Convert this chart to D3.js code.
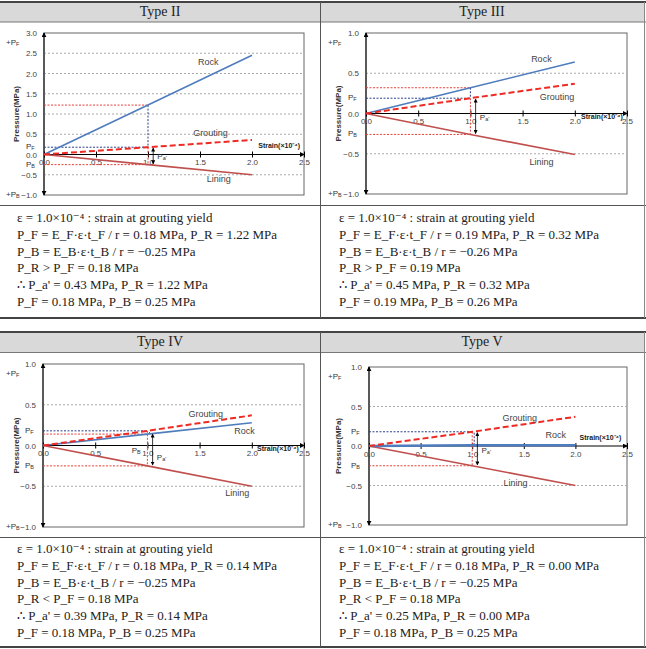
<!DOCTYPE html>
<html>
<head>
<meta charset="utf-8">
<script src="https://cdn.jsdelivr.net/npm/d3@7"></script>
<style>
  body { margin: 0; background: #fff; }
  svg { display: block; }
</style>
</head>
<body>
<svg id="chart" width="646" height="649"></svg>
<script>
// ---- data ----
var titles = ["Type II", "Type III", "Type IV", "Type V"];
var strain = [0, 1.0, 2.0];
var rock = [[0, 1.22, 2.45], [0, 0.32, 0.64], [0, 0.14, 0.28], [0, 0.01, 0.01]];
var grouting = [[0, 0.18, 0.36], [0, 0.19, 0.37], [0, 0.18, 0.37], [0, 0.18, 0.37]];
var lining = [[0, -0.25, -0.5], [0, -0.26, -0.51], [0, -0.25, -0.5], [0, -0.25, -0.5]];
var yMin = [-1, -1, -1, -1];
var yMax = [3, 1, 1, 1];
var yTicks = [
  [-1, -0.5, 0, 0.5, 1, 1.5, 2, 2.5, 3],
  [-1, -0.5, 0, 0.5, 1],
  [-1, -0.5, 0, 0.5, 1],
  [-1, -0.5, 0, 0.5, 1]
];
var xTicks = [0, 0.5, 1.0, 1.5, 2.0, 2.5];
var notes = [
  ["ε = 1.0×10⁻⁴ : strain at grouting yield",
   "P_F = E_F·ε·t_F / r = 0.18 MPa,  P_R = 1.22 MPa",
   "P_B = E_B·ε·t_B / r = −0.25 MPa",
   "P_R > P_F = 0.18 MPa",
   "∴  P_a' = 0.43 MPa,  P_R = 1.22 MPa",
   "P_F = 0.18 MPa,  P_B = 0.25 MPa"],
  ["ε = 1.0×10⁻⁴ : strain at grouting yield",
   "P_F = E_F·ε·t_F / r = 0.19 MPa,  P_R = 0.32 MPa",
   "P_B = E_B·ε·t_B / r = −0.26 MPa",
   "P_R > P_F = 0.19 MPa",
   "∴  P_a' = 0.45 MPa,  P_R = 0.32 MPa",
   "P_F = 0.19 MPa,  P_B = 0.26 MPa"],
  ["ε = 1.0×10⁻⁴ : strain at grouting yield",
   "P_F = E_F·ε·t_F / r = 0.18 MPa,  P_R = 0.14 MPa",
   "P_B = E_B·ε·t_B / r = −0.25 MPa",
   "P_R < P_F = 0.18 MPa",
   "∴  P_a' = 0.39 MPa,  P_R = 0.14 MPa",
   "P_F = 0.18 MPa,  P_B = 0.25 MPa"],
  ["ε = 1.0×10⁻⁴ : strain at grouting yield",
   "P_F = E_F·ε·t_F / r = 0.18 MPa,  P_R = 0.00 MPa",
   "P_B = E_B·ε·t_B / r = −0.25 MPa",
   "P_R < P_F = 0.18 MPa",
   "∴  P_a' = 0.25 MPa,  P_R = 0.00 MPa",
   "P_F = 0.18 MPa,  P_B = 0.25 MPa"]
];
// label spots in data units [strain, pressure]
var rockLabel = [[1.58, 2.27], [1.68, 0.67], [1.93, 0.17], [1.81, 0.13]];
var groutLabel = [[1.6, 0.52], [1.83, 0.2], [1.56, 0.38], [1.46, 0.35]];
var liningLabel = [[1.68, -0.62], [1.68, -0.61], [1.86, -0.59], [1.42, -0.48]];
var strainLabel = [[2.06, 0.2], [2.06, -0.05], [2.05, -0.05], [2.04, 0.1]];
var arrowTop = [0.18, 0.19, 0.15, 0.18];

// ---- layout ----
var boxes = [[44, 33, 304, 195], [366, 33, 627, 194], [43, 364, 304, 527], [369, 367, 627, 525]];
var cellX = [0, 322, 0, 322];
var headerY = [3, 3, 333, 333];
var noteY = [219, 219, 550, 550];

var svg = d3.select("#chart");
var font = "'Liberation Sans', Arial, sans-serif";

var defs = svg.append("defs");
defs.append("marker")
  .attr("id", "arr")
  .attr("viewBox", "0 0 6 6")
  .attr("refX", 5).attr("refY", 3)
  .attr("markerWidth", 5).attr("markerHeight", 5)
  .attr("orient", "auto-start-reverse")
  .append("path").attr("d", "M0,0L6,3L0,6Z").attr("fill", "#000");

// ---- table frame ----
function drawTable(top, head, split, bottom) {
  svg.append("rect").attr("x", 0).attr("y", top).attr("width", 644).attr("height", head - top)
    .attr("fill", "#d9d9d9");
  svg.append("line").attr("x1", 0).attr("x2", 646).attr("y1", top).attr("y2", top)
    .attr("stroke", "#444").attr("stroke-width", 2);
  svg.append("line").attr("x1", 0).attr("x2", 646).attr("y1", head).attr("y2", head)
    .attr("stroke", "#777").attr("stroke-width", 1);
  svg.append("line").attr("x1", 0).attr("x2", 646).attr("y1", split).attr("y2", split)
    .attr("stroke", "#555").attr("stroke-width", 1);
  svg.append("line").attr("x1", 0).attr("x2", 646).attr("y1", bottom).attr("y2", bottom)
    .attr("stroke", "#444").attr("stroke-width", 2);
  svg.append("line").attr("x1", 320.5).attr("x2", 320.5).attr("y1", top).attr("y2", bottom)
    .attr("stroke", "#555").attr("stroke-width", 1);
  svg.append("line").attr("x1", 644.5).attr("x2", 644.5).attr("y1", top).attr("y2", bottom)
    .attr("stroke", "#888").attr("stroke-width", 1);
}
drawTable(2, 22, 205.5, 318);
drawTable(332, 352.5, 537.5, 647);

function pLabel(g, x, y, pre, sub, anchor) {
  var t = g.append("text").attr("x", x).attr("y", y)
    .attr("font-family", font).attr("font-size", 8).attr("fill", "#333")
    .attr("dominant-baseline", "middle").attr("text-anchor", anchor || "start");
  t.append("tspan").text(pre);
  t.append("tspan").attr("font-size", 5.5).attr("dy", 2).text(sub);
  return t;
}

function drawPanel(i) {
  var b = boxes[i];
  var g = svg.append("g");
  var x = d3.scaleLinear().domain([0, 2.5]).range([b[0], b[2]]);
  var y = d3.scaleLinear().domain([yMin[i], yMax[i]]).range([b[3], b[1]]);

  // header
  svg.append("text")
    .attr("x", cellX[i] + 160).attr("y", headerY[i] + 10)
    .attr("text-anchor", "middle").attr("dominant-baseline", "middle")
    .attr("font-family", "'Liberation Serif', 'DejaVu Serif', serif")
    .attr("font-size", 14).attr("fill", "#222")
    .text(titles[i]);

  // plot frame
  g.append("rect").attr("x", b[0]).attr("y", b[1])
    .attr("width", b[2] - b[0]).attr("height", b[3] - b[1])
    .attr("fill", "none").attr("stroke", "#666").attr("stroke-width", 1);

  // dotted grid
  g.selectAll(".grid").data(yTicks[i].filter(function(d) { return d != 0 && d != yMin[i] && d != yMax[i]; }))
    .enter().append("line")
    .attr("x1", b[0]).attr("x2", b[2])
    .attr("y1", function(d) { return y(d); }).attr("y2", function(d) { return y(d); })
    .attr("stroke", "#aaa").attr("stroke-width", 1).attr("stroke-dasharray", "2,2");

  // y tick labels
  var ya = g.append("g").attr("transform", "translate(" + b[0] + ",0)")
    .call(d3.axisLeft(y).tickValues(yTicks[i]).tickFormat(d3.format(".1f")).tickSize(0).tickPadding(7));
  ya.select(".domain").remove();
  ya.selectAll("text").attr("font-family", font).attr("font-size", 8).attr("fill", "#444");

  // x ticks crossing the zero line
  var xa = g.append("g").attr("transform", "translate(0," + (y(0) - 3) + ")")
    .call(d3.axisBottom(x).tickValues(xTicks).tickFormat(d3.format(".1f")).tickSize(6).tickPadding(2));
  xa.select(".domain").remove();
  xa.selectAll("line").attr("stroke", "#000");
  xa.selectAll("text").attr("font-family", font).attr("font-size", 8).attr("fill", "#444");

  // axes with arrows
  g.append("line").attr("x1", x(0)).attr("x2", x(2.5)).attr("y1", y(0)).attr("y2", y(0))
    .attr("stroke", "#000").attr("stroke-width", 1).attr("marker-end", "url(#arr)");
  g.append("line").attr("x1", x(0)).attr("x2", x(0)).attr("y1", b[3]).attr("y2", b[1])
    .attr("stroke", "#000").attr("stroke-width", 1)
    .attr("marker-start", "url(#arr)").attr("marker-end", "url(#arr)");

  // helper dotted lines at strain 1.0
  var r1 = rock[i][1], f1 = grouting[i][1], l1 = lining[i][1];
  function hline(v, col) {
    g.append("line").attr("x1", x(0)).attr("x2", x(1.0)).attr("y1", y(v)).attr("y2", y(v))
      .attr("stroke", col).attr("stroke-width", 1).attr("stroke-dasharray", "2,1.5");
  }
  function vline(v1, v2, col, dx) {
    g.append("line").attr("x1", x(1.0) + dx).attr("x2", x(1.0) + dx).attr("y1", y(v1)).attr("y2", y(v2))
      .attr("stroke", col).attr("stroke-width", 1).attr("stroke-dasharray", "2,1.5");
  }
  if (r1 > 0.05) hline(r1, "#e8403a");
  hline(f1, "#2b3f8c");
  hline(l1, "#e8403a");
  vline(r1, f1, "#2b3f8c", r1 > f1 ? 0 : 2);
  vline(f1, l1, "#e8403a", 0);

  // series
  var line = d3.line().x(function(d) { return x(d[0]); }).y(function(d) { return y(d[1]); });
  function pts(arr) { return strain.map(function(s, k) { return [s, arr[k]]; }); }
  g.append("path").attr("d", line(pts(lining[i])))
    .attr("fill", "none").attr("stroke", "#c0504d").attr("stroke-width", 1.6);
  g.append("path").attr("d", line(pts(rock[i])))
    .attr("fill", "none").attr("stroke", "#4f7cbd").attr("stroke-width", i == 3 ? 2.6 : 1.6);
  g.append("path").attr("d", line(pts(grouting[i])))
    .attr("fill", "none").attr("stroke", "#ee2a24").attr("stroke-width", 2)
    .attr("stroke-dasharray", "6,3");

  // P_a' double arrow
  g.append("line").attr("x1", x(1.05)).attr("x2", x(1.05))
    .attr("y1", y(arrowTop[i]) + 1).attr("y2", y(l1) - 1)
    .attr("stroke", "#000").attr("stroke-width", 0.8)
    .attr("marker-start", "url(#arr)").attr("marker-end", "url(#arr)");
  pLabel(g, x(1.09), y(-0.06) + (i == 2 ? 8 : 0), "P", "a'", "start");

  // series labels
  function lab(p, txt) {
    g.append("text").attr("x", x(p[0])).attr("y", y(p[1]))
      .attr("text-anchor", "middle").attr("dominant-baseline", "middle")
      .attr("font-family", font).attr("font-size", 9).attr("fill", "#444").text(txt);
  }
  lab(rockLabel[i], "Rock");
  lab(groutLabel[i], "Grouting");
  lab(liningLabel[i], "Lining");

  g.append("text").attr("x", x(strainLabel[i][0])).attr("y", y(strainLabel[i][1]))
    .attr("dominant-baseline", "middle").attr("font-family", font)
    .attr("font-size", 7).attr("font-weight", "bold").attr("fill", "#222")
    .text("Strain(×10⁻⁴)");

  // pressure markers on the left
  var lx = cellX[i] + 6;
  pLabel(g, lx, b[1] + 10, "+P", "F", "start");
  pLabel(g, lx, b[3], "+P", "B", "start");
  pLabel(g, b[0] - 18, y(f1), "P", "F", "start");
  pLabel(g, b[0] - 18, y(l1), "P", "B", "start");
  if (i == 2) pLabel(g, x(0.85), y(-0.07), "P", "B", "start");

  // y title
  g.append("text")
    .attr("transform", "translate(" + (cellX[i] + 17) + "," + ((b[1] + b[3]) / 2) + ")rotate(-90)")
    .attr("text-anchor", "middle").attr("dominant-baseline", "middle")
    .attr("font-family", font).attr("font-size", 8).attr("font-weight", "bold").attr("fill", "#333")
    .text("Pressure(MPa)");

  // notes below chart
  svg.append("g").selectAll("text").data(notes[i]).enter().append("text")
    .attr("x", cellX[i] + 17)
    .attr("y", function(d, k) { return noteY[i] + k * 16.8; })
    .attr("dominant-baseline", "middle")
    .attr("font-family", "'Liberation Serif', 'DejaVu Serif', serif")
    .attr("font-size", 13).attr("fill", "#222")
    .text(function(d) { return d; });
}

for (var i = 0; i < 4; i++) drawPanel(i);
</script>
</body>
</html>
